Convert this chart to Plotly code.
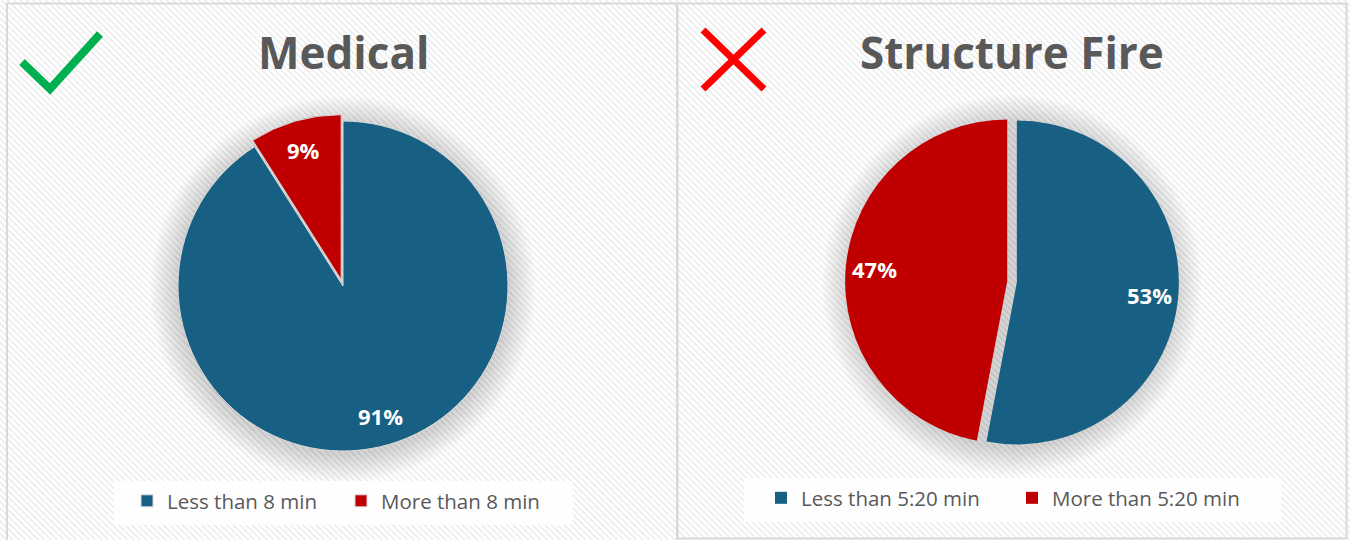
import base64
import math
import plotly.graph_objects as go

# ---- data ----
med_labels = ["Less than 8 min", "More than 8 min"]
med_values = [91, 9]
fire_labels = ["Less than 5:20 min", "More than 5:20 min"]
fire_values = [53, 47]
titles = ["Medical", "Structure Fire"]

BLUE = "#176083"
RED = "#C00000"
GRAY = "#595959"
W, H = 1350, 540

def px(x):
    return x / W
def py(y):
    return 1 - y / H

# pie geometry (pixel centre / radius of unpulled pie)
pies = [
    dict(labels=med_labels, values=med_values, cx=343, cy=286, r=165, pull=[0, 0.04],
         line=dict(color="#d9d9d9", width=1), legend="legend"),
    dict(labels=fire_labels, values=fire_values, cx=1012, cy=282, r=162, pull=[0.03, 0.03],
         line=dict(color="rgba(0,0,0,0)", width=0), legend="legend2"),
]

fig = go.Figure()
annotations = []
shapes = []
LABEL_FRAC = 0.82

for p in pies:
    half = p["r"] * (1 + max(p["pull"]))
    dom = dict(x=[px(p["cx"] - half), px(p["cx"] + half)],
               y=[py(p["cy"] + half), py(p["cy"] - half)])
    fig.add_trace(go.Pie(
        labels=p["labels"], values=p["values"], sort=False, direction="clockwise", rotation=0,
        marker=dict(colors=[BLUE, RED], line=p["line"]),
        pull=p["pull"], textinfo="none", domain=dom, legend=p["legend"],
        hoverinfo="label+percent",
    ))
    # percentage labels placed along each slice's mid-angle
    total = sum(p["values"])
    cum = 0
    for v, pl in zip(p["values"], p["pull"]):
        mid = (cum + v / 2) / total * 2 * math.pi
        cum += v
        d = p["r"] * (LABEL_FRAC + pl)
        lx = p["cx"] + d * math.sin(mid)
        ly = p["cy"] - d * math.cos(mid)
        annotations.append(dict(text=f"{round(100 * v / total)}%", xref="paper", yref="paper",
                                x=px(lx), y=py(ly), xanchor="center", yanchor="middle",
                                showarrow=False,
                                font=dict(family="Open Sans", size=22, color="white", weight="bold")))
    # soft glow behind pie
    for k in range(14):
        rr = p["r"] + 28 - 2.0 * k
        shapes.append(dict(type="circle", xref="paper", yref="paper", layer="below",
                           x0=px(p["cx"] - rr), x1=px(p["cx"] + rr),
                           y0=py(p["cy"] + rr + 3), y1=py(p["cy"] - rr + 3),
                           fillcolor="rgba(0,0,0,0.011)", line=dict(width=0)))

# ---- background hatch ----
svg = ('<svg xmlns="http://www.w3.org/2000/svg" width="1350" height="540">'
       '<defs><pattern id="p" width="4.5" height="4.5" patternUnits="userSpaceOnUse" '
       'patternTransform="rotate(-45)"><rect width="4.5" height="4.5" fill="#ffffff"/>'
       '<rect width="1.5" height="4.5" fill="#ebebeb"/></pattern></defs>'
       '<rect width="1350" height="540" fill="url(#p)"/></svg>')
src = "data:image/svg+xml;base64," + base64.b64encode(svg.encode()).decode()

# panel borders
shapes.append(dict(type="rect", xref="paper", yref="paper", layer="below",
                   x0=px(7), x1=px(677), y0=py(560), y1=py(3.5),
                   line=dict(color="#d9d9d9", width=2), fillcolor="rgba(0,0,0,0)"))
shapes.append(dict(type="rect", xref="paper", yref="paper", layer="below",
                   x0=px(677.5), x1=px(1346.5), y0=py(538.5), y1=py(3.5),
                   line=dict(color="#d9d9d9", width=2), fillcolor="rgba(0,0,0,0)"))

# legend boxes
shapes.append(dict(type="rect", xref="paper", yref="paper", layer="below",
                   x0=px(114), x1=px(573), y0=py(525), y1=py(481),
                   line=dict(width=0), fillcolor="rgba(255,255,255,0.85)"))
shapes.append(dict(type="rect", xref="paper", yref="paper", layer="below",
                   x0=px(744), x1=px(1281), y0=py(522), y1=py(478),
                   line=dict(width=0), fillcolor="rgba(255,255,255,0.85)"))

# check mark
shapes.append(dict(type="path", xref="paper", yref="paper",
                   path=f"M {px(22)},{py(62)} L {px(50)},{py(89)} L {px(100)},{py(34)}",
                   line=dict(color="#00B050", width=8)))
# red X
shapes.append(dict(type="line", xref="paper", yref="paper",
                   x0=px(703), y0=py(30), x1=px(764), y1=py(89),
                   line=dict(color="#FF0000", width=7)))
shapes.append(dict(type="line", xref="paper", yref="paper",
                   x0=px(764), y0=py(30), x1=px(703), y1=py(89),
                   line=dict(color="#FF0000", width=7)))

for t, cx in zip(titles, [343, 1012]):
    annotations.append(dict(text=t, xref="paper", yref="paper", x=px(cx), y=py(52),
                            xanchor="center", yanchor="middle", showarrow=False,
                            font=dict(family="Open Sans", size=44, color=GRAY, weight="bold")))

legend_font = dict(family="Open Sans", size=20.5, color=GRAY)
fig.update_layout(
    width=W, height=H, margin=dict(l=0, r=0, t=0, b=0),
    paper_bgcolor="white", plot_bgcolor="white",
    images=[dict(source=src, xref="paper", yref="paper", x=0, y=1, sizex=1, sizey=1,
                 xanchor="left", yanchor="top", sizing="stretch", layer="below")],
    shapes=shapes, annotations=annotations,
    legend=dict(orientation="h", x=px(127), y=py(501), xanchor="left", yanchor="middle",
                bgcolor="rgba(0,0,0,0)", font=legend_font, entrywidth=169, entrywidthmode="pixels"),
    legend2=dict(orientation="h", x=px(761), y=py(498), xanchor="left", yanchor="middle",
                 bgcolor="rgba(0,0,0,0)", font=legend_font, entrywidth=206, entrywidthmode="pixels"),
)

fig.write_html("out.html", config={"displayModeBar": False},
               post_script="document.body.style.margin='0';document.body.style.overflow='hidden';")
